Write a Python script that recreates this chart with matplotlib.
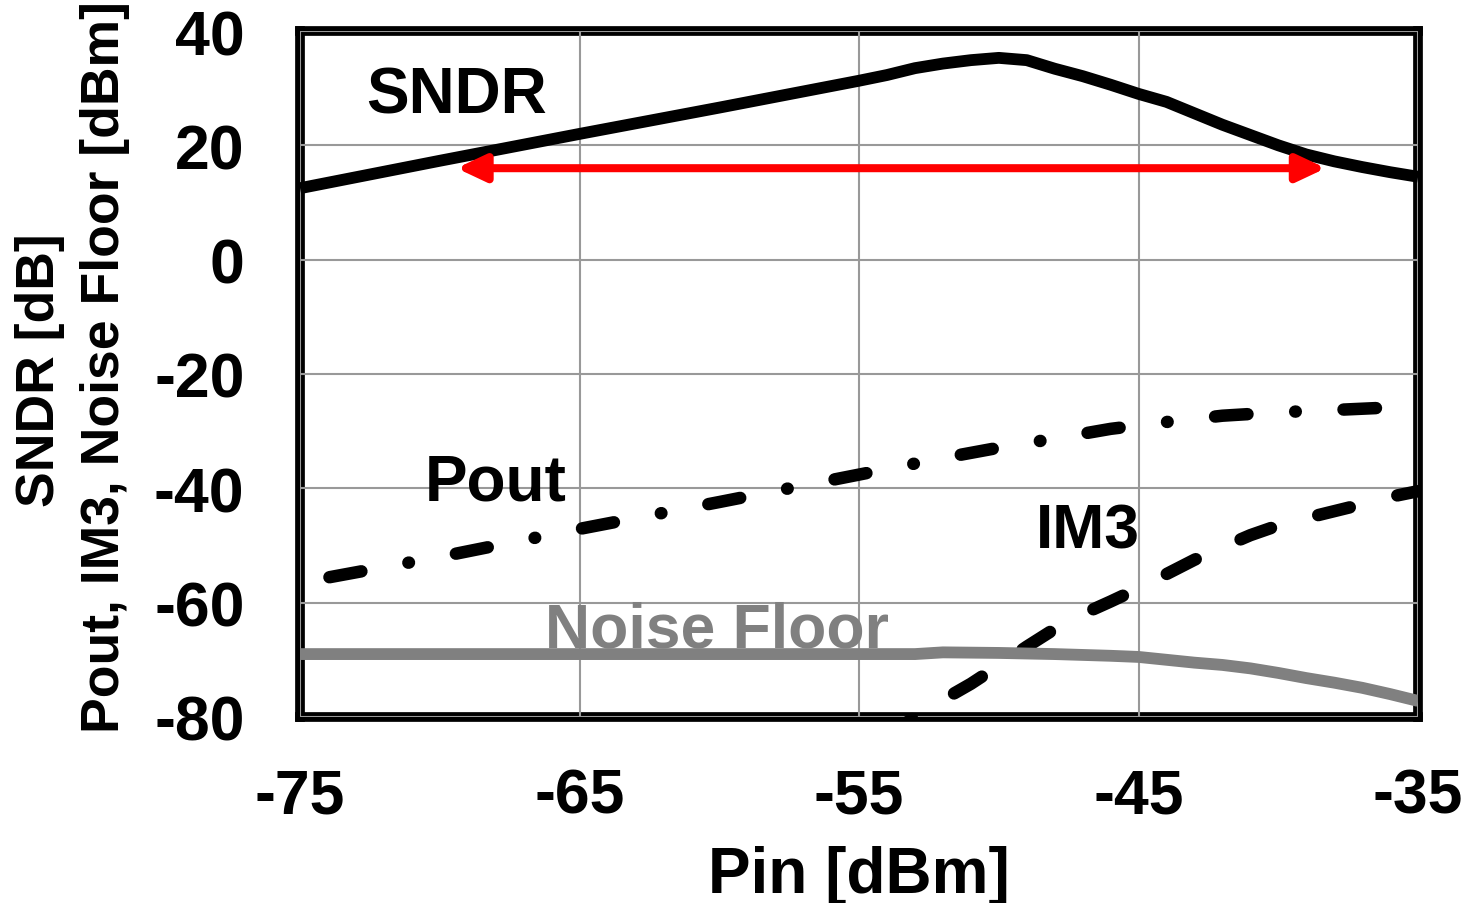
import matplotlib.pyplot as plt

plt.rcParams['font.family'] = ['Liberation Sans', 'DejaVu Sans']
plt.rcParams['font.weight'] = 'bold'
plt.rcParams['axes.unicode_minus'] = False

# Data
pin_sndr = [-75, -70, -65, -60, -55, -54, -53, -52, -51, -50, -49, -48, -47,
            -46, -45, -44, -43, -42, -41, -40, -39, -38, -37, -36, -35]
sndr = [12.5, 17.3, 22.0, 26.6, 31.3, 32.3, 33.5, 34.3, 34.9, 35.3, 34.9, 33.4,
        32.1, 30.6, 29.0, 27.6, 25.6, 23.6, 21.8, 20.0, 18.4, 17.2, 16.2, 15.3, 14.5]

pin_pout = [-75, -70, -65, -60, -55, -52, -50, -48, -46, -44, -42, -40, -38, -36.2]
pout = [-56.5, -52.0, -47.1, -42.4, -37.6, -34.7, -32.9, -31.3, -29.6, -28.4,
        -27.3, -26.7, -26.3, -25.9]

pin_im3 = [-53.4, -52, -51, -50, -49, -48, -47, -46, -45, -44, -43, -42, -41,
           -40, -39, -38, -37, -36, -35]
im3 = [-81.3, -77.0, -74.2, -71.0, -67.7, -64.6, -62.0, -59.8, -57.5, -55.0,
       -52.5, -50.3, -48.2, -46.5, -45.2, -44.0, -42.8, -41.5, -40.5]

pin_nf = [-75, -53, -52, -50, -48, -46, -45, -44, -43, -42, -41, -40, -39, -38,
          -37, -36, -35]
noise_floor = [-69.0, -69.0, -68.7, -68.8, -69.0, -69.3, -69.5, -70.0, -70.5,
               -70.9, -71.5, -72.3, -73.2, -74.0, -74.9, -76.0, -77.2]

# dynamic range arrow
arrow_x = [-69.4, -38.3]
arrow_y = 16

xticks = [-75, -65, -55, -45, -35]
yticks = [-80, -60, -40, -20, 0, 20, 40]

fig = plt.figure(figsize=(14.68, 9.04), dpi=100)
ax = fig.add_axes([0.2044, 0.2058, 0.7616, 0.7588])

ax.plot(pin_sndr, sndr, color='black', lw=8.5, solid_capstyle='butt', zorder=3)
ax.plot(pin_pout, pout, color='black', lw=9,
        linestyle=(7.9, (2.6, 3.82, 0.05, 3.82)), dash_capstyle='round', zorder=3)
ax.plot(pin_im3, im3, color='black', lw=9, linestyle=(1.8, (2.6, 3.92)),
        dash_capstyle='round', zorder=3)
ax.plot(pin_nf, noise_floor, color='#808080', lw=8.5, solid_capstyle='butt', zorder=3)

ax.annotate('', xy=(arrow_x[0], arrow_y), xytext=(arrow_x[1], arrow_y),
            arrowprops=dict(arrowstyle='<|-|>,head_length=1.7,head_width=0.8',
                            color='red', lw=5.8, shrinkA=0, shrinkB=0), zorder=4)

ax.text(-69.4, 25.8, 'SNDR', fontsize=46, ha='center', va='baseline')
ax.text(-68.0, -41.9, 'Pout', fontsize=46, ha='center', va='baseline')
ax.text(-46.8, -50.3, 'IM3', fontsize=45, ha='center', va='baseline')
ax.text(-60.1, -67.7, 'Noise Floor', fontsize=45, ha='center', va='baseline',
        color='#808080')

ax.set_xlim(-75, -35)
ax.set_ylim(-80, 40)
ax.set_xticks(xticks)
ax.set_yticks(yticks)
ax.tick_params(length=0, labelsize=45)
ax.tick_params(axis='y', pad=40)
ax.tick_params(axis='x', pad=36)
ax.grid(True, color='#999999', lw=1.5)
for s in ax.spines.values():
    s.set_linewidth(7)
    s.set_color('black')
    s.set_zorder(1)
    s.set_joinstyle('round')

ax.set_xlabel('Pin [dBm]', fontsize=46, fontweight='bold', labelpad=14)
fig.text(40 / 1468, 1 - 370 / 904, 'SNDR [dB]', fontsize=38.5, rotation=90,
         ha='center', va='center')
fig.text(105 / 1468, 1 - 367 / 904, 'Pout, IM3, Noise Floor [dBm]', fontsize=38.5,
         rotation=90, ha='center', va='center')

fig.savefig('out.png', dpi=100)
